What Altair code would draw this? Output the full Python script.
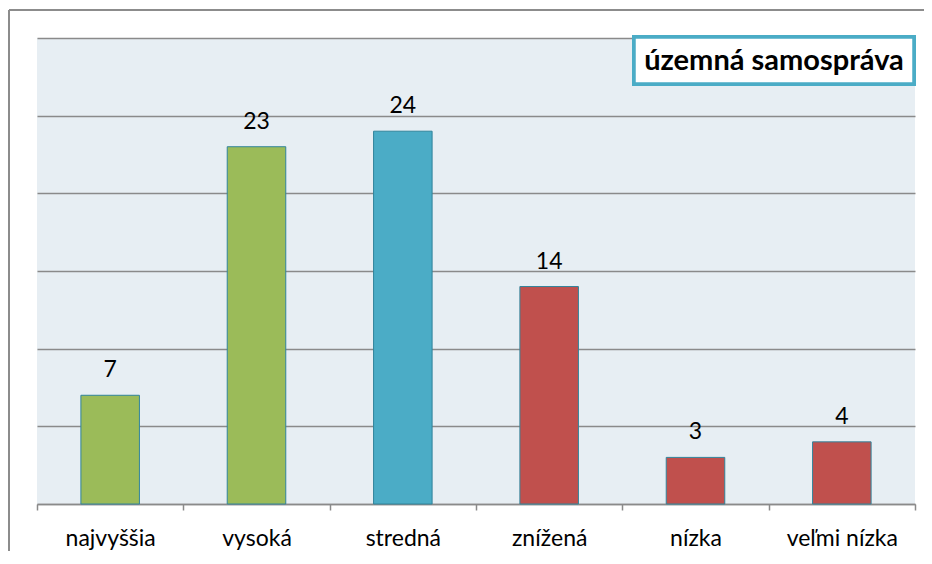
import altair as alt
import pandas as pd

categories = ["najvyššia", "vysoká", "stredná", "znížená", "nízka", "veľmi nízka"]
values = [7, 23, 24, 14, 3, 4]
colors = ["#9bbb59", "#9bbb59", "#4bacc6", "#c0504d", "#c0504d", "#c0504d"]
title_text = "územná samospráva"

df = pd.DataFrame({"cat": categories, "val": values, "col": colors})

W, H = 878, 466
FONT = "Lato"

x = alt.X("cat:N", sort=categories, title=None,
          scale=alt.Scale(paddingInner=0, paddingOuter=0),
          axis=alt.Axis(labelAngle=0, labelFontSize=23, labelFont=FONT, labelColor="#000000",
                        labelPadding=17, tickBand="extent", tickSize=6, tickColor="#8a8a8a",
                        tickWidth=1.5, domainColor="#8a8a8a", domainWidth=1.5, grid=False))
y = alt.Y("val:Q", title=None,
          scale=alt.Scale(domain=[0, 30], nice=False),
          axis=alt.Axis(values=[0, 5, 10, 15, 20, 25, 30], labels=False, ticks=False, domain=False,
                        grid=True, gridColor="#8a8a8a", gridWidth=1.5))

bars = alt.Chart(df).mark_bar(width=alt.RelativeBandSize(0.4), stroke="#31849b", strokeWidth=1).encode(
    x=x, y=y, color=alt.Color("col:N", scale=None)
)

labels = alt.Chart(df).mark_text(fontSize=23, font=FONT, color="#000000", dy=-18, baseline="alphabetic").encode(
    x=alt.X("cat:N", sort=categories), y="val:Q", text="val:Q"
)

box = alt.Chart(df).mark_rect(fill="white", stroke="#4bacc6", strokeWidth=3.5).encode(
    x=alt.value(597), x2=alt.value(877), y=alt.value(-1), y2=alt.value(46)
)
title = alt.Chart(pd.DataFrame({"t": [title_text]})).mark_text(
    fontSize=29, fontWeight="bold", font=FONT, color="#000000", align="center", baseline="middle"
).encode(x=alt.value(737), y=alt.value(23), text="t:N")

frame_top = alt.Chart(df).mark_rule(color="#8c8c8c", strokeWidth=2).encode(
    x=alt.value(-28), x2=alt.value(1000), y=alt.value(-28)
)
frame_left = alt.Chart(df).mark_rule(color="#8c8c8c", strokeWidth=2).encode(
    x=alt.value(-28), y=alt.value(-28), y2=alt.value(700)
)

chart = alt.layer(bars, labels, box, title, frame_top, frame_left).properties(
    width=W, height=H,
    padding={"left": 29, "top": 30, "right": 9, "bottom": 47},
    autosize=alt.AutoSizeParams(type="none"),
    background="white",
).configure_view(fill="#e7eef3", stroke=None)

chart.save("out.html", embed_options={"renderer": "svg", "actions": False})
